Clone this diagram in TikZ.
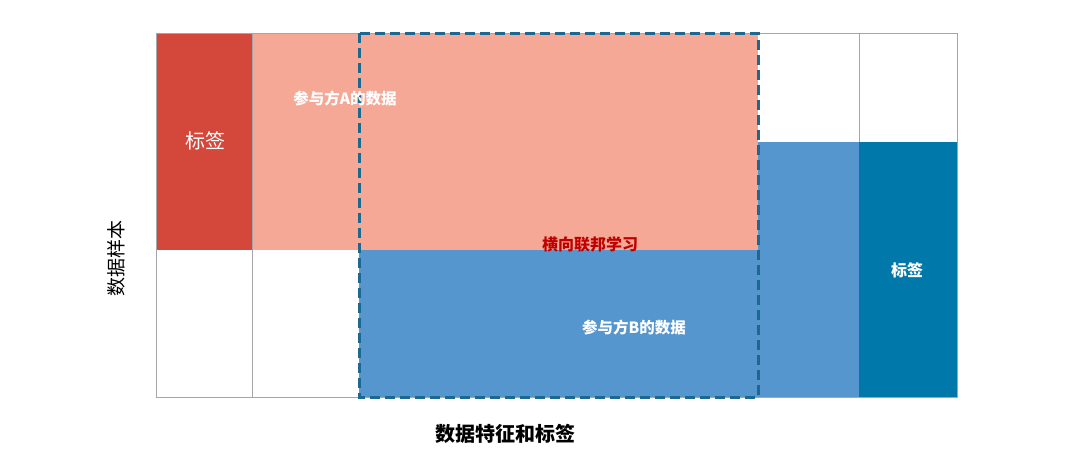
\documentclass[tikz,border=0pt]{standalone}
\usepackage{fontspec}
\newfontfamily\cjk{Noto Sans CJK SC}
\usetikzlibrary{positioning}
\definecolor{labelred}{HTML}{D4473B}
\definecolor{partyA}{HTML}{F6A896}
\definecolor{partyB}{HTML}{5596CF}
\definecolor{labelblue}{HTML}{0079AA}
\definecolor{gridgray}{HTML}{A6A6A6}
\definecolor{dashblue}{HTML}{1D6890}
\definecolor{fedred}{HTML}{C00000}
\tikzset{
  txt/.style={inner sep=0pt, text=white, font=\cjk\bfseries\fontsize{15.5}{18}\selectfont},
  axis/.style={inner sep=0pt, text=black, font=\cjk\fontsize{19}{22}\selectfont},
  gridline/.style={draw=gridgray, line width=0.8pt}
}
\begin{document}
\begin{tikzpicture}[x=1pt,y=-1pt]
\useasboundingbox (0,0) rectangle (1080,453);

\fill[partyA] (252,33) rectangle (758,250);
\fill[labelred] (156,33) rectangle (252,250);
\fill[partyB] (359,250) rectangle (758,397);
\fill[partyB] (758,142) rectangle (859,397);
\fill[labelblue] (859,142) rectangle (957,397);

\draw[gridline] (156,33) rectangle (957,397);
\draw[gridline] (252,33) -- (252,397);
\draw[gridline] (859,33) -- (859,142);

\draw[dashblue, line width=3pt, dash pattern=on 10pt off 5pt] (359,33) rectangle (758,397);

\node[txt, font=\cjk\fontsize{20}{22}\selectfont] (labA) at (205,141) {标签};
\node[txt] (dataA) at (345,99) {参与方A的数据};
\node[txt, text=fedred, font=\cjk\bfseries\fontsize{16}{18}\selectfont] (hfl) at (590,244) {横向联邦学习};
\node[txt] (dataB) at (634,328) {参与方B的数据};
\node[txt, font=\cjk\bfseries\fontsize{16}{18}\selectfont] (labB) at (907,270) {标签};

\node[axis, rotate=90] (samples) at (116,258) {数据样本};
\node[axis, font=\cjk\bfseries\fontsize{20}{22}\selectfont] (features) at (505,434) {数据特征和标签};

\end{tikzpicture}
\end{document}
